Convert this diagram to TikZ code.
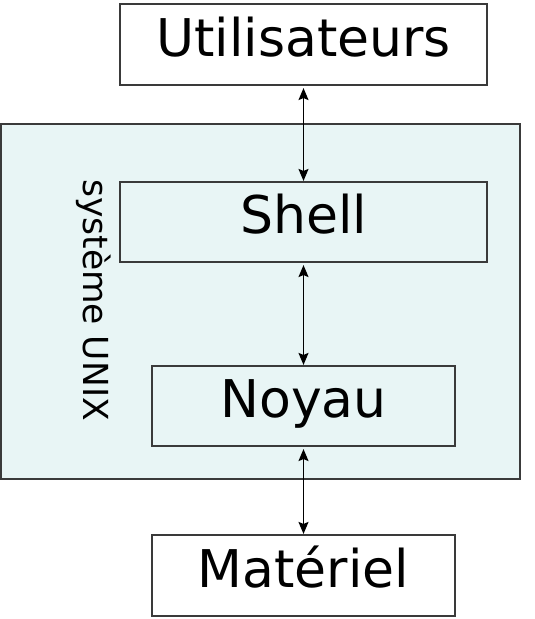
\documentclass[tikz,border=0pt]{standalone}
\usepackage{fontspec}
\setmainfont{DejaVu Sans}
\usetikzlibrary{arrows.meta}
\definecolor{sysfill}{HTML}{E8F5F5}
\definecolor{edge}{HTML}{3A3A3A}
\tikzset{
  box/.style={draw=edge, line width=1.1pt, rectangle, inner sep=0pt,
    font=\fontsize{52}{60}\selectfont, text height=38pt, text depth=15pt},
  conn/.style={line width=1.5pt, {Stealth[length=12pt,width=10pt,inset=2pt]}-{Stealth[length=12pt,width=10pt,inset=2pt]}, shorten <=2.5pt, shorten >=0.5pt}
}
\begin{document}
\begin{tikzpicture}[x=1pt,y=-1pt]
\useasboundingbox (0,0) rectangle (535,619);
\node[box, fill=sysfill, minimum width=519pt, minimum height=355pt] (sys) at (260.5,301.5) {};
\node[rotate=-90, font=\fontsize{34.5}{40}\selectfont] (lab) at (94,300) {système UNIX};
\node[box, fill=white, minimum width=367pt, minimum height=81pt] (u) at (303.5,44.5) {Utilisateurs};
\node[box, fill=sysfill, minimum width=367pt, minimum height=80pt] (s) at (303.5,222) {Shell};
\node[box, fill=sysfill, minimum width=303pt, minimum height=80pt] (n) at (303.5,406) {Noyau};
\node[box, fill=white, minimum width=303pt, minimum height=81pt] (m) at (303.5,575.5) {Matériel};
\draw[conn] (u.south) -- (s.north);
\draw[conn] (s.south) -- (n.north);
\draw[conn] (n.south) -- (m.north);
\end{tikzpicture}
\end{document}
